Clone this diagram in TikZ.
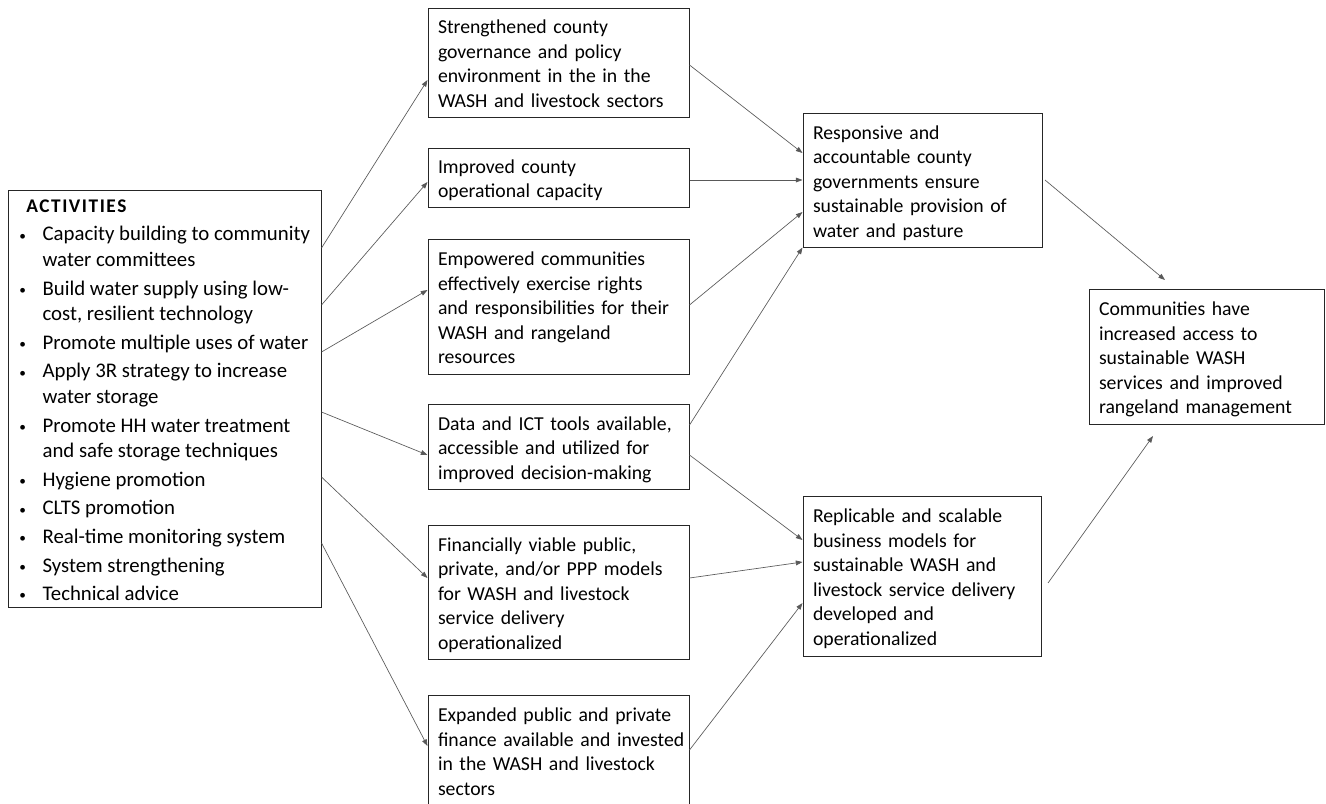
\documentclass[tikz,border=0pt]{standalone}
\usepackage{fontspec}
\setmainfont{Carlito}
\usetikzlibrary{arrows.meta}
\newcommand\boxfont{\fontsize{14.8pt}{18.4pt}\selectfont}
\newcommand\actfont{\fontsize{15.6pt}{19.3pt}\selectfont}
\newcommand\tb[1]{\raisebox{-2.4pt}[\height][\depth]{\begin{tabular}{@{}l@{}}#1\end{tabular}}}
\newcommand\bul{\raisebox{0.6pt}{\fontsize{10pt}{10pt}\selectfont\textbullet}}
\begin{document}
\begin{tikzpicture}[x=0.75pt,y=-0.75pt,
 box/.style={draw=black!85,line width=0.75pt,inner xsep=7.5pt,inner ysep=0pt,font=\boxfont,align=left},
 mid/.style={box,minimum width=195.75pt,text width=180.75pt},
 conn/.style={draw=black!65,line width=0.5pt,-{Triangle[length=5pt,width=3.6pt]}}]
\useasboundingbox (0,0) rectangle (1326,803);

% activities
\node[box,minimum width=234.75pt,minimum height=312.75pt] (act) at (164.5,398.5) {};
\node[anchor=north west,inner sep=0pt,font=\actfont] (acttext) at (19,194) {%
\begin{tabular}{@{}p{17.5pt}@{}l@{}}
\multicolumn{2}{@{\hspace{5.25pt}}l}{\fontsize{14.5pt}{19.3pt}\selectfont\bfseries\addfontfeatures{LetterSpace=8}ACTIVITIES}\\[2.1pt]
\bul & Capacity building to community\\
 & water committees\\[2.1pt]
\bul & Build water supply using low-\\
 & cost, resilient technology\\[2.1pt]
\bul & Promote multiple uses of water\\[2.1pt]
\bul & Apply 3R strategy to increase\\
 & water storage\\[2.1pt]
\bul & Promote HH water treatment\\
 & and safe storage techniques\\[2.1pt]
\bul & Hygiene promotion\\[2.1pt]
\bul & CLTS promotion\\[2.1pt]
\bul & Real-time monitoring system\\[2.1pt]
\bul & System strengthening\\[2.1pt]
\bul & Technical advice
\end{tabular}};

% middle column
\node[mid,minimum height=81.75pt] (m1) at (558.5,62.5) {\tb{Strengthened county\\ governance and policy\\ environment in the in the\\ WASH and livestock sectors}};
\node[mid,minimum height=44.25pt] (m2) at (558.5,177.5) {\tb{Improved county\\ operational capacity}};
\node[mid,minimum height=101.25pt] (m3) at (558.5,306.5) {\tb{Empowered communities\\ effectively exercise rights\\ and responsibilities for their\\ WASH and rangeland\\ resources}};
\node[mid,minimum height=63.75pt] (m4) at (558.5,446.5) {\tb{Data and ICT tools available,\\ accessible and utilized for\\ improved decision-making}};
\node[mid,minimum height=100.5pt] (m5) at (558.5,592) {\tb{Financially viable public,\\ private, and/or PPP models\\ for WASH and livestock\\ service delivery\\ operationalized}};
\node[mid,minimum height=83.25pt] (m6) at (558.5,750.5) {\tb{Expanded public and private\\ finance available and invested\\ in the WASH and livestock\\ sectors}};

% right column
\node[box,minimum width=179.25pt,text width=164.25pt,minimum height=100.5pt] (r1) at (922.5,180) {\tb{Responsive and\\ accountable county\\ governments ensure\\ sustainable provision of\\ water and pasture}};
\node[box,minimum width=178.5pt,text width=163.5pt,minimum height=120pt] (r2) at (922,576) {\tb{Replicable and scalable\\ business models for\\ sustainable WASH and\\ livestock service delivery\\ developed and\\ operationalized}};
\node[box,minimum width=176.25pt,text width=161.25pt,minimum height=101.25pt] (fin) at (1206.5,356.5) {\tb{Communities have\\ increased access to\\ sustainable WASH\\ services and improved\\ rangeland management}};

% connectors activities -> middle
\draw[conn] (act.east |- 0,248) -- (m1.west |- 0,80);
\draw[conn] (act.east |- 0,305) -- (m2.west |- 0,182);
\draw[conn] (act.east |- 0,352) -- (m3.west |- 0,290);
\draw[conn] (act.east |- 0,412) -- (m4.west |- 0,455);
\draw[conn] (act.east |- 0,477) -- (m5.west |- 0,578);
\draw[conn] (act.east |- 0,543) -- (m6.west |- 0,746);

% middle -> right
\draw[conn] (m1.east |- 0,65) -- (r1.west |- 0,153);
\draw[conn] (m2.east |- 0,180) -- (r1.west |- 0,180);
\draw[conn] (m3.east |- 0,305) -- (r1.west |- 0,212);
\draw[conn] (m4.east |- 0,425) -- (r1.south west);
\draw[conn] (m4.east |- 0,455) -- (r2.west |- 0,540);
\draw[conn] (m5.east |- 0,578) -- (r2.west |- 0,562);
\draw[conn] (m6.east |- 0,750) -- (r2.west |- 0,603);

% right -> final
\coordinate (r1out) at (1045,180);
\coordinate (finin1) at (1165,280);
\coordinate (r2out) at (1048,583);
\coordinate (finin2) at (1153,436);
\draw[conn] (r1out) -- (finin1);
\draw[conn] (r2out) -- (finin2);
\end{tikzpicture}
\end{document}
